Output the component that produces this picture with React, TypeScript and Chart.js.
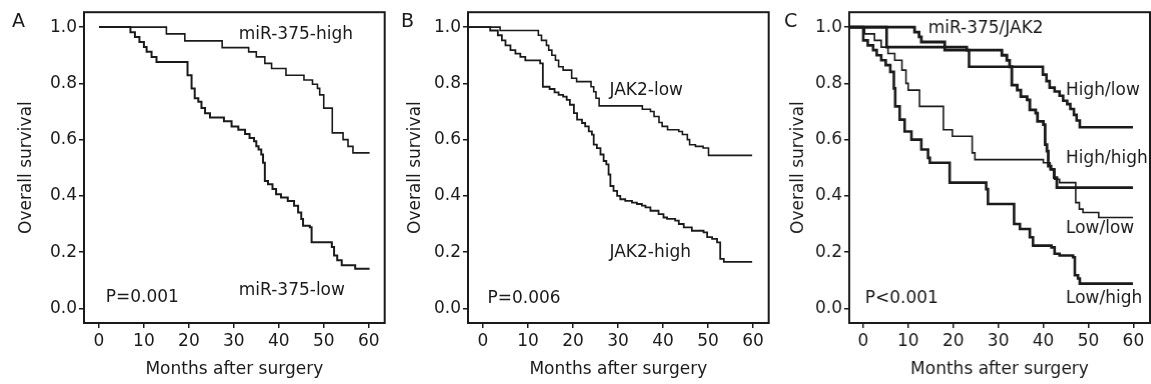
import React, { useEffect, useRef } from 'react';
import { Chart, registerables } from 'chart.js';

Chart.register(...registerables);

// ---- shared axis ticks ----
const monthTicks = [0, 10, 20, 30, 40, 50, 60];
const survivalTicks = [0, 0.2, 0.4, 0.6, 0.8, 1.0];

// ---- Panel A: miR-375 (month, survival) ----
const aHigh: [number, number][] = [
  [0, 1.0], [15.0, 0.976], [19.1, 0.951], [27.4, 0.927], [33.3, 0.912], [35.0, 0.894],
  [36.9, 0.871], [38.4, 0.853], [41.6, 0.829], [45.6, 0.812], [47.5, 0.797], [48.6, 0.782],
  [49.1, 0.759], [50.0, 0.712], [51.9, 0.624], [54.3, 0.6], [55.4, 0.576], [56.5, 0.553],
  [60.2, 0.553],
];
const aLow: [number, number][] = [
  [0, 1.0], [7.0, 0.982], [8.0, 0.965], [9.0, 0.947], [10.0, 0.929], [10.6, 0.912],
  [11.7, 0.894], [12.8, 0.876], [19.7, 0.829], [20.6, 0.782], [21.3, 0.747], [22.1, 0.735],
  [22.8, 0.712], [23.6, 0.694], [24.7, 0.679], [27.8, 0.665], [29.5, 0.647], [31.0, 0.635],
  [32.5, 0.62], [33.5, 0.606], [34.5, 0.594], [35.0, 0.576], [35.5, 0.565], [36.1, 0.547],
  [36.5, 0.518], [36.9, 0.453], [37.6, 0.441], [38.6, 0.424], [39.4, 0.406], [40.5, 0.394],
  [42.0, 0.382], [43.4, 0.365], [44.3, 0.341], [45.0, 0.318], [45.4, 0.294], [46.9, 0.288],
  [47.3, 0.235], [51.8, 0.218], [52.3, 0.188], [53.0, 0.171], [54.0, 0.153], [57.0, 0.141],
  [60.2, 0.141],
];

// ---- Panel B: JAK2 ----
const bLow: [number, number][] = [
  [-3.3, 1.0], [3.8, 0.988], [12.3, 0.971], [13.0, 0.953], [14.1, 0.935], [14.6, 0.918],
  [15.3, 0.9], [16.1, 0.882], [16.8, 0.859], [17.8, 0.847], [19.7, 0.818], [20.8, 0.806],
  [24.0, 0.788], [24.6, 0.77], [25.1, 0.747], [25.8, 0.72], [35.4, 0.708], [37.2, 0.7],
  [38.0, 0.682], [39.1, 0.661], [39.8, 0.647], [41.0, 0.635], [43.5, 0.629], [44.3, 0.618],
  [45.4, 0.6], [45.9, 0.582], [47.2, 0.576], [48.9, 0.57], [50.1, 0.544], [59.8, 0.544],
];
const bHigh: [number, number][] = [
  [-3.3, 1.0], [1.6, 0.988], [3.3, 0.971], [4.2, 0.953], [5.0, 0.935], [6.1, 0.918],
  [7.2, 0.906], [8.3, 0.894], [9.4, 0.882], [12.7, 0.871], [13.3, 0.788], [14.8, 0.78],
  [15.9, 0.768], [16.8, 0.759], [17.8, 0.753], [18.6, 0.741], [19.3, 0.724], [20.2, 0.694],
  [20.9, 0.671], [22.0, 0.659], [22.7, 0.647], [23.5, 0.629], [24.2, 0.618], [24.6, 0.582],
  [25.3, 0.57], [26.1, 0.547], [26.8, 0.524], [27.4, 0.512], [27.9, 0.476], [28.3, 0.435],
  [29.0, 0.418], [29.8, 0.4], [30.5, 0.388], [31.6, 0.382], [33.1, 0.376], [34.2, 0.371],
  [35.3, 0.365], [36.1, 0.359], [37.2, 0.347], [39.0, 0.335], [40.1, 0.323], [40.9, 0.318],
  [42.7, 0.312], [43.5, 0.3], [44.6, 0.288], [46.4, 0.276], [49.0, 0.27], [49.8, 0.253],
  [50.9, 0.247], [52.0, 0.235], [52.7, 0.176], [53.5, 0.165], [59.8, 0.165],
];

// ---- Panel C: miR-375/JAK2 ----
const cHighLow: [number, number][] = [
  [-3.1, 1.0], [5.2, 0.929], [23.0, 0.918], [23.5, 0.859], [39.9, 0.831], [40.7, 0.808],
  [41.4, 0.785], [42.5, 0.771], [43.6, 0.756], [44.4, 0.738], [45.3, 0.726], [46.0, 0.709],
  [46.8, 0.688], [47.4, 0.668], [48.1, 0.644], [59.9, 0.644],
];
const cHighHigh: [number, number][] = [
  [-3.1, 1.0], [11.4, 0.982], [12.4, 0.965], [12.9, 0.947], [18.1, 0.918], [30.8, 0.9],
  [31.9, 0.882], [32.5, 0.859], [33.0, 0.794], [34.2, 0.776], [35.0, 0.753], [36.4, 0.741],
  [37.0, 0.706], [38.3, 0.694], [38.7, 0.665], [40.0, 0.653], [40.4, 0.582], [40.8, 0.559],
  [41.1, 0.506], [41.7, 0.494], [42.4, 0.465], [43.0, 0.429], [59.9, 0.429],
];
const cLowLow: [number, number][] = [
  [-3.1, 1.0], [0.3, 0.976], [2.5, 0.953], [4.0, 0.929], [5.5, 0.906], [7.0, 0.882],
  [8.6, 0.847], [9.5, 0.8], [10.0, 0.776], [12.5, 0.718], [17.8, 0.635], [19.8, 0.612],
  [24.2, 0.553], [24.8, 0.529], [40.0, 0.518], [41.5, 0.494], [42.5, 0.459], [43.6, 0.447],
  [47.2, 0.376], [48.0, 0.353], [48.8, 0.341], [52.3, 0.323], [59.9, 0.323],
];
const cLowHigh: [number, number][] = [
  [-3.1, 1.0], [0.0, 0.953], [1.0, 0.935], [2.2, 0.918], [3.0, 0.9], [4.0, 0.882],
  [5.0, 0.865], [6.0, 0.841], [6.8, 0.782], [7.1, 0.718], [8.1, 0.671], [9.2, 0.629],
  [10.7, 0.6], [12.9, 0.565], [14.4, 0.535], [14.8, 0.518], [19.2, 0.447], [27.3, 0.424],
  [27.7, 0.371], [33.5, 0.3], [34.8, 0.282], [37.0, 0.253], [37.7, 0.223], [41.8, 0.217],
  [42.5, 0.194], [43.6, 0.188], [46.6, 0.182], [47.0, 0.118], [47.7, 0.106], [48.1, 0.088],
  [59.9, 0.088],
];

type Label = { text: string; x: number; y: number };
type Series = { points: [number, number][]; width: number };
type PanelSpec = {
  left: number;
  width: number;
  xMin: number;
  xMax: number;
  letter: string;
  letterX: number;
  yTitlePad: number;
  series: Series[];
  labels: Label[];
};

const FONT = 'DejaVu Sans, Arial, sans-serif';
const INK = '#1a1a1a';

const panels: PanelSpec[] = [
  {
    left: 0, width: 390, xMin: -3.33, xMax: 63.56, letter: 'A', letterX: 12, yTitlePad: 16,
    series: [{ points: aHigh, width: 1.6 }, { points: aLow, width: 2 }],
    labels: [
      { text: 'miR-375-high', x: 31.1, y: 0.972 },
      { text: 'miR-375-low', x: 31.1, y: 0.065 },
      { text: 'P=0.001', x: 1.5, y: 0.037 },
    ],
  },
  {
    left: 383.7, width: 390, xMin: -3.33, xMax: 63.47, letter: 'B', letterX: 17, yTitlePad: 21.8,
    series: [{ points: bLow, width: 1.6 }, { points: bHigh, width: 1.8 }],
    labels: [
      { text: 'JAK2-low', x: 28.1, y: 0.774 },
      { text: 'JAK2-high', x: 28.1, y: 0.2 },
      { text: 'P=0.006', x: 1.0, y: 0.034 },
    ],
  },
  {
    left: 765.3, width: 385.7, xMin: -3.11, xMax: 63.7, letter: 'C', letterX: 19, yTitlePad: 23.5,
    series: [
      { points: cHighLow, width: 2.6 },
      { points: cHighHigh, width: 2.8 },
      { points: cLowLow, width: 1.6 },
      { points: cLowHigh, width: 2.6 },
    ],
    labels: [
      { text: 'miR-375/JAK2', x: 14.4, y: 0.994 },
      { text: 'High/low', x: 45.0, y: 0.774 },
      { text: 'High/high', x: 45.0, y: 0.531 },
      { text: 'Low/low', x: 45.0, y: 0.283 },
      { text: 'Low/high', x: 45.0, y: 0.036 },
      { text: 'P<0.001', x: 0.4, y: 0.036 },
    ],
  },
];

const panelDecor = {
  id: 'panelDecor',
  afterDraw(chart: any, _args: any, opts: any) {
    const { ctx, chartArea, scales } = chart;
    const xs = scales.x;
    const ys = scales.y;
    ctx.save();
    ctx.strokeStyle = INK;
    ctx.lineWidth = 2;
    ctx.strokeRect(chartArea.left, chartArea.top, chartArea.right - chartArea.left, chartArea.bottom - chartArea.top);
    ctx.fillStyle = INK;
    ctx.font = `17px ${FONT}`;
    ctx.textAlign = 'left';
    ctx.textBaseline = 'middle';
    for (const l of opts.labels as Label[]) {
      ctx.fillText(l.text, xs.getPixelForValue(l.x), ys.getPixelForValue(l.y));
    }
    ctx.font = `19px ${FONT}`;
    ctx.fillText(opts.letter, opts.letterX, 22);
    ctx.restore();
  },
};

function Panel({ spec }: { spec: PanelSpec }) {
  const ref = useRef<HTMLCanvasElement | null>(null);
  useEffect(() => {
    if (!ref.current) return;
    const chart = new Chart(ref.current, {
      type: 'line',
      data: {
        datasets: spec.series.map((s) => ({
          data: s.points.map(([x, y]) => ({ x, y })),
          borderColor: INK,
          borderWidth: s.width,
          pointRadius: 0,
          stepped: 'before' as const,
          fill: false,
          tension: 0,
        })),
      },
      options: {
        animation: false,
        responsive: false,
        events: [],
        layout: { padding: { top: 10, left: 0, right: spec.width - 384.7, bottom: 0 } },
        plugins: {
          legend: { display: false },
          tooltip: { enabled: false },
          panelDecor: { labels: spec.labels, letter: spec.letter, letterX: spec.letterX },
        } as any,
        scales: {
          x: {
            type: 'linear',
            min: spec.xMin,
            max: spec.xMax,
            afterBuildTicks: (s: any) => { s.ticks = monthTicks.map((v) => ({ value: v })); },
            afterFit: (s: any) => { s.height = 61; },
            grid: { drawOnChartArea: false, drawTicks: true, tickLength: 5, color: INK, lineWidth: 1.5 },
            border: { display: false },
            ticks: { color: INK, font: { family: FONT, size: 17 }, padding: 3, maxRotation: 0, autoSkip: false, callback: (v: any) => String(v) },
            title: { display: true, text: 'Months after surgery', color: INK, font: { family: FONT, size: 17 }, padding: { top: 0, bottom: 3.8 } },
          },
          y: {
            type: 'linear',
            min: -0.052,
            max: 1.053,
            afterBuildTicks: (s: any) => { s.ticks = survivalTicks.map((v) => ({ value: v })); },
            afterFit: (s: any) => { s.width = 84; },
            grid: { drawOnChartArea: false, drawTicks: true, tickLength: 5, color: INK, lineWidth: 1.5 },
            border: { display: false },
            ticks: { color: INK, font: { family: FONT, size: 17 }, padding: 2, autoSkip: false, callback: (v: any) => Number(v).toFixed(1) },
            title: { display: true, text: 'Overall survival', color: INK, font: { family: FONT, size: 17 }, padding: { top: spec.yTitlePad, bottom: 0 } },
          },
        },
      },
      plugins: [panelDecor],
    });
    return () => chart.destroy();
  }, [spec]);
  return (
    <canvas
      ref={ref}
      width={spec.width}
      height={384}
      style={{ position: 'absolute', left: spec.left, top: 0, width: spec.width, height: 384 }}
    />
  );
}

export default function App() {
  return (
    <div style={{ position: 'fixed', left: 0, top: 0, width: 1151, height: 384, overflow: 'hidden', background: '#fff' }}>
      {panels.map((p) => (
        <Panel key={p.letter} spec={p} />
      ))}
    </div>
  );
}
